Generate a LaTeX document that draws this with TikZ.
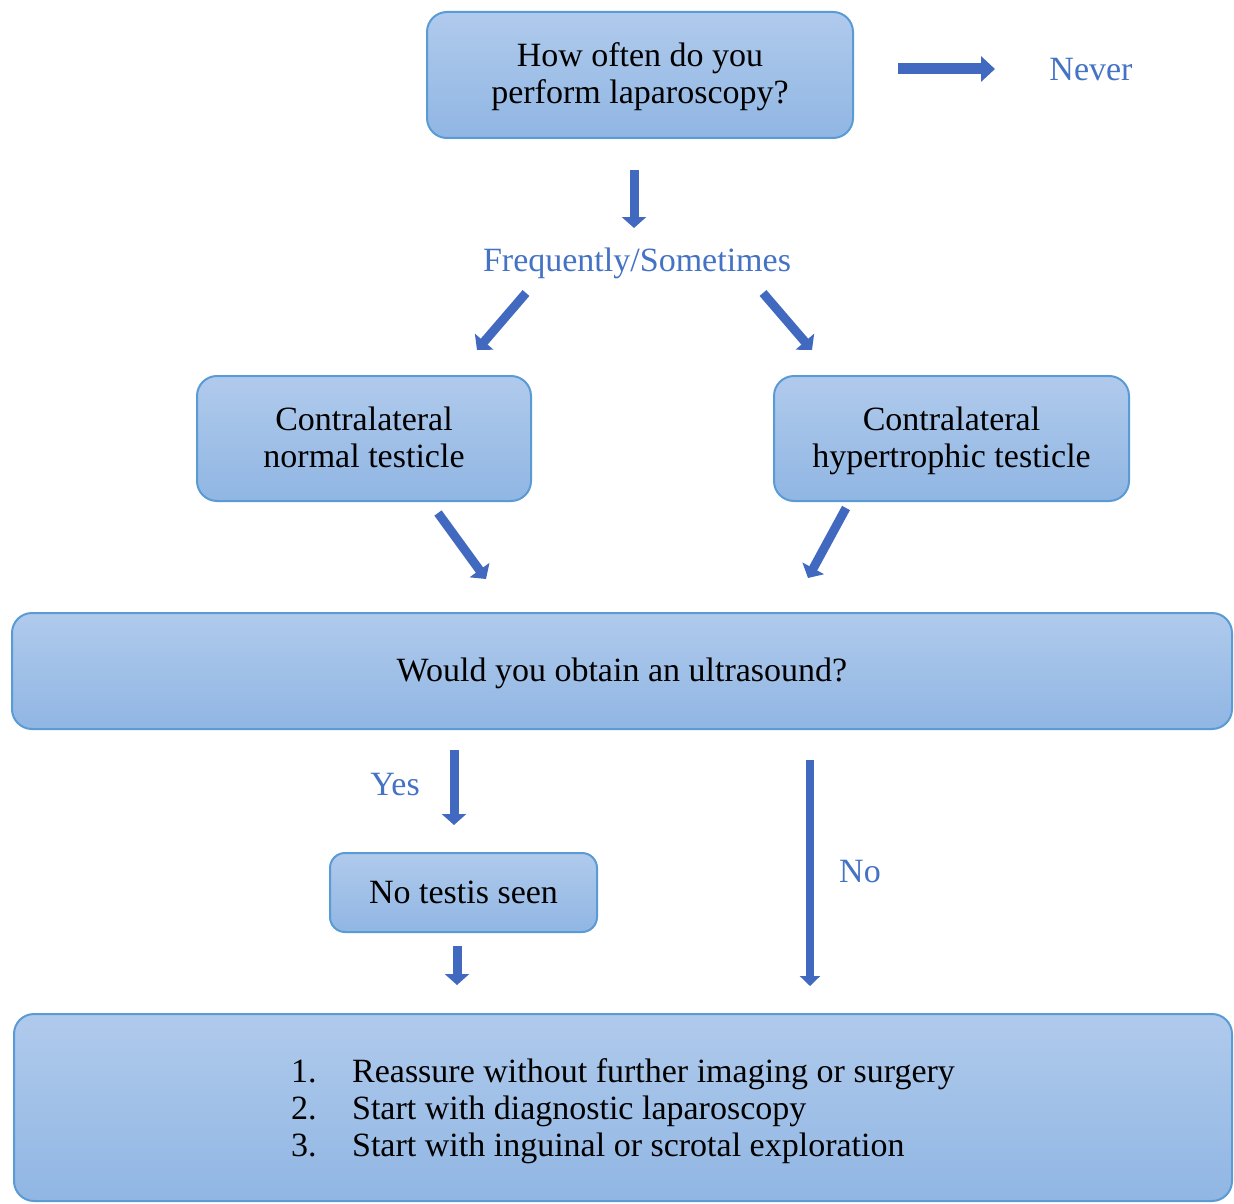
\documentclass[tikz,border=0pt]{standalone}
\usepackage{fontspec}
\setmainfont{Liberation Serif}
\usetikzlibrary{arrows.meta}
\definecolor{boxtop}{HTML}{B0CAEC}
\definecolor{boxbot}{HTML}{90B6E3}
\definecolor{boxline}{HTML}{5B9BD5}
\definecolor{lblblue}{HTML}{4472C4}
\definecolor{arrblue}{HTML}{4169BF}
\newcommand{\lowr}[2]{\raisebox{-#1}[\height][\depth]{#2}}
\begin{document}
\begin{tikzpicture}[x=1pt,y=-1pt,
  box/.style={draw=boxline, line width=2pt, rounded corners=20pt,
    top color=boxtop, bottom color=boxbot, inner sep=0pt,
    font=\fontsize{34}{37}\selectfont, align=center},
  lbl/.style={font=\fontsize{34}{37}\selectfont, text=lblblue, inner sep=0pt},
  barrow/.style={draw=arrblue, line width=9pt, -{Triangle[width=24pt,length=11pt]}},
]
\useasboundingbox[fill=white] (0,0) rectangle (1234,1204);

% boxes
\node[box, minimum width=426pt, minimum height=126pt] (q1) at (640,75)
  {\lowr{2pt}{How often do you}\\\lowr{2pt}{perform laparoscopy?}};
\node[box, minimum width=334pt, minimum height=125pt] (normal) at (364,438.5)
  {\lowr{-1pt}{Contralateral}\\\lowr{-1pt}{normal testicle}};
\node[box, minimum width=355pt, minimum height=125pt] (hyper) at (951.5,438.5)
  {\lowr{2pt}{Contralateral}\\\lowr{2pt}{hypertrophic testicle}};
\node[box, minimum width=1220pt, minimum height=116pt] (us) at (622,671)
  {\lowr{2pt}{Would you obtain an ultrasound?}};
\node[box, rounded corners=15pt, minimum width=267pt, minimum height=79pt] (seen) at (463.5,892.5)
  {No testis seen};
\node[box, minimum width=1218pt, minimum height=187pt, align=left] (opts) at (623,1107.5)
  {\lowr{4pt}{\makebox[61pt][l]{1.}Reassure without further imaging or surgery}\\
   \lowr{4pt}{\makebox[61pt][l]{2.}Start with diagnostic laparoscopy}\\
   \lowr{4pt}{\makebox[61pt][l]{3.}Start with inguinal or scrotal exploration}};

% labels
\node[lbl] (never) at (1091,70) {Never};
\node[lbl] (freq) at (637,263) {Frequently/Sometimes};
\node[lbl] (yes) at (395,785) {Yes};
\node[lbl] (no) at (860,872) {No};

% arrow end points
\coordinate (a1s) at (898,69);   \coordinate (a1e) at (995,69);
\coordinate (a2s) at (634,170);  \coordinate (a2e) at (634,228);
\coordinate (a3s) at (526,293);  \coordinate (a3e) at (477,350);
\coordinate (a4s) at (763,293);  \coordinate (a4e) at (812,350);
\coordinate (a5s) at (438,513);  \coordinate (a5e) at (486,579);
\coordinate (a6s) at (846,508);  \coordinate (a6e) at (808,578);
\coordinate (a7s) at (454,750);  \coordinate (a7e) at (454,825);
\coordinate (a8s) at (457,946);  \coordinate (a8e) at (457,985);
\coordinate (a9s) at (810,760);  \coordinate (a9e) at (810,986);

\draw[barrow, line width=11pt, -{Triangle[width=25pt,length=14pt]}] (a1s) -- (a1e);
\draw[barrow] (a2s) -- (a2e);
\draw[barrow] (a3s) -- (a3e);
\draw[barrow] (a4s) -- (a4e);
\draw[barrow] (a5s) -- (a5e);
\draw[barrow] (a6s) -- (a6e);
\draw[barrow] (a7s) -- (a7e);
\draw[barrow] (a8s) -- (a8e);
\draw[barrow, line width=8pt, -{Triangle[width=20pt,length=10pt]}] (a9s) -- (a9e);
\end{tikzpicture}
\end{document}
